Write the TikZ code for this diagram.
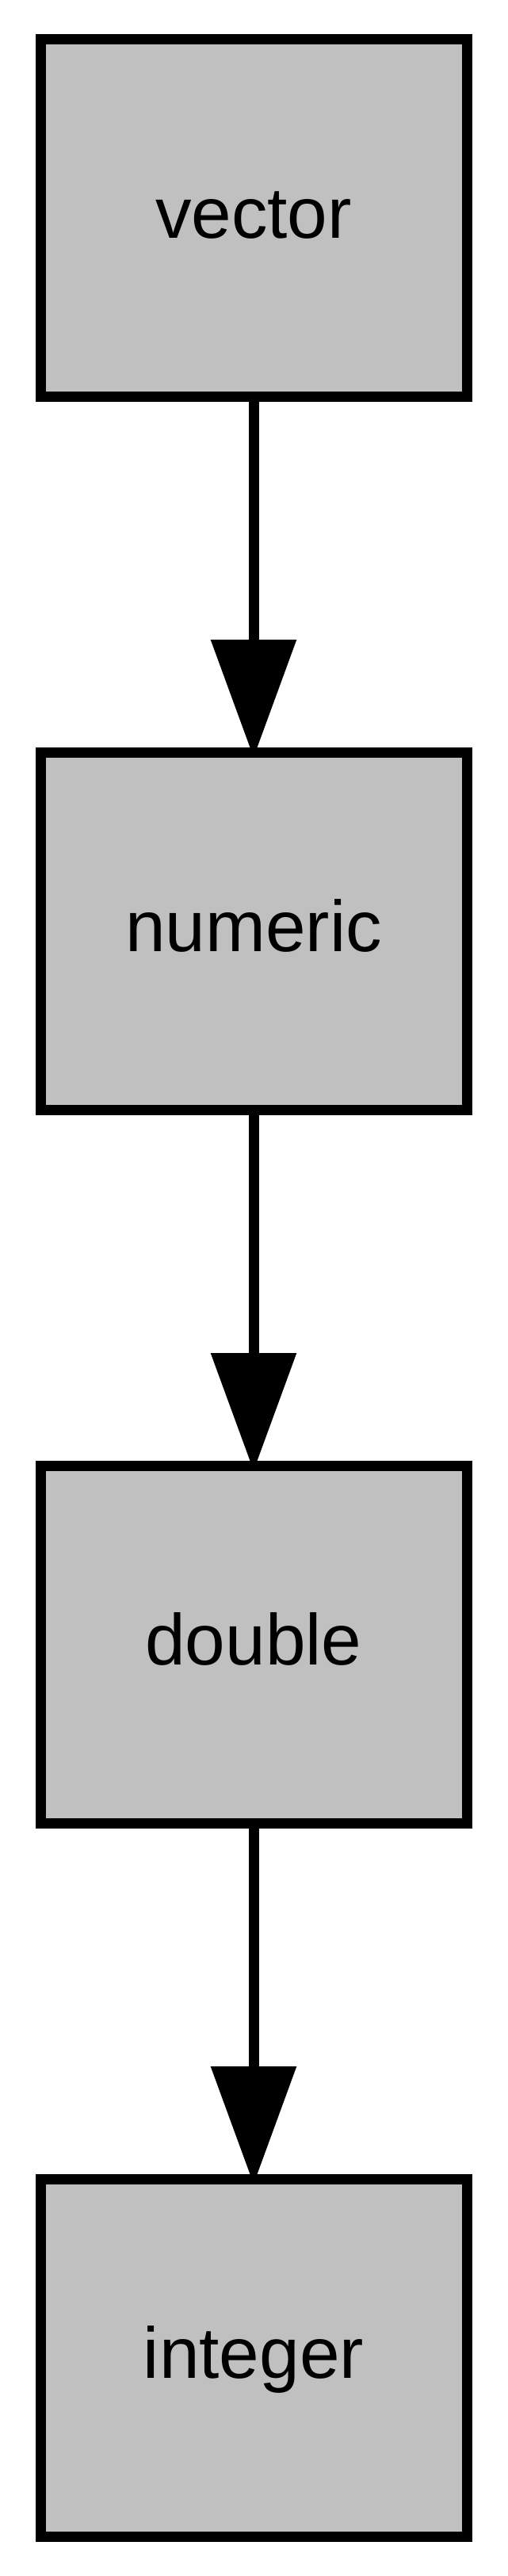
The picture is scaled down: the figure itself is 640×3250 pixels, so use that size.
\documentclass[tikz,border=0pt]{standalone}
\usepackage{fontspec}
\setmainfont{Liberation Sans}
\usetikzlibrary{arrows.meta}
\definecolor{boxgray}{RGB}{192,192,192}
\tikzset{
  typebox/.style={draw=black, fill=boxgray, line width=13pt, rectangle,
    minimum width=538pt, minimum height=450.5pt, inner sep=0pt,
    text height=60pt, text depth=9pt,
    font=\fontsize{91}{100}\selectfont},
  typeedge/.style={draw=black, line width=13pt,
    -{Triangle[length=149pt, width=105pt]}}
}
\begin{document}
\begin{tikzpicture}[x=1pt, y=-1pt]
\useasboundingbox (0,0) rectangle (640,3250);
\node[typebox] (vector)  at (320,274.75)  {vector};
\node[typebox] (numeric) at (320,1174.75) {numeric};
\node[typebox] (double)  at (320,2074.75) {double};
\node[typebox] (integer) at (320,2974.75) {integer};
\draw[typeedge] (vector.south)  -- ([yshift=-13pt]numeric.north);
\draw[typeedge] (numeric.south) -- ([yshift=-13pt]double.north);
\draw[typeedge] (double.south)  -- ([yshift=-13pt]integer.north);
\end{tikzpicture}
\end{document}
